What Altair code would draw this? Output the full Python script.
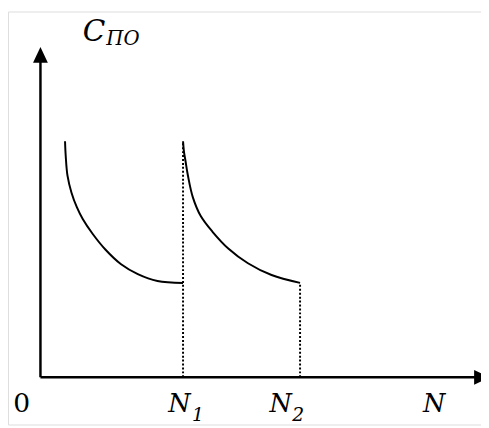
import altair as alt
import pandas as pd

# ---- data (abstract units) ----
curve1_N = [25, 25.7, 27.5, 31.5, 37, 43, 53, 66, 82, 99, 119, 145]
curve1_C = [240, 225, 205, 188, 173, 161, 146, 130, 115, 105, 98, 96]
curve2_N = [145, 146, 147.5, 150, 155, 163, 175, 191, 211, 235, 264]
curve2_C = [240, 229, 220, 205, 183, 164, 148, 131, 116, 104, 96]

N1 = 145
N2 = 264
N_LABEL = 389
X_END = 449
Y_END = 328

curves = pd.DataFrame({
    "N": curve1_N + curve2_N,
    "C": curve1_C + curve2_C,
    "seg": ["a"] * len(curve1_N) + ["b"] * len(curve2_N),
})
drops = pd.DataFrame({"N": [N1, N2], "C0": [0, 0], "C1": [curve1_C[0], curve2_C[-1]]})

xs = alt.Scale(domain=[-33, 448], nice=False, zero=False)
ys = alt.Scale(domain=[-48, 372], nice=False, zero=False)
X = lambda f: alt.X(f, type="quantitative", scale=xs, axis=None)
Y = lambda f: alt.Y(f, type="quantitative", scale=ys, axis=None)

FONT = "DejaVu Serif"

line = alt.Chart(curves).mark_line(color="black", strokeWidth=2, interpolate="catmull-rom").encode(
    x=X("N"), y=Y("C"), detail="seg:N"
)
dotted = alt.Chart(drops).mark_rule(color="black", strokeWidth=2, strokeDash=[2, 2]).encode(
    x=X("N"), y=Y("C0"), y2="C1"
)
xaxis = alt.Chart(pd.DataFrame({"a": [0], "b": [X_END - 6], "z": [0]})).mark_rule(
    color="black", strokeWidth=2.5).encode(x=X("a"), x2="b", y=Y("z"))
yaxis = alt.Chart(pd.DataFrame({"a": [0], "b": [Y_END + 2], "z": [0]})).mark_rule(
    color="black", strokeWidth=2.5).encode(y=Y("a"), y2="b", x=X("z"))

up = alt.Chart(pd.DataFrame({"x": [0], "y": [Y_END]})).mark_point(
    shape="M0,-1L0.94,1L-0.94,1Z", size=256, filled=True, color="black", opacity=1, strokeWidth=0
).encode(x=X("x"), y=Y("y"))
right = alt.Chart(pd.DataFrame({"x": [X_END], "y": [0]})).mark_point(
    shape="M1,0L-1,-0.94L-1,0.94Z", size=256, filled=True, color="black", opacity=1, strokeWidth=0
).encode(x=X("x"), y=Y("y"))


def label(text, xv, yv, dx, dy, size, italic=True, align="left"):
    props = dict(text=text, font=FONT, fontSize=size, color="black", align=align,
                 baseline="alphabetic", dx=dx, dy=dy)
    if italic:
        props["fontStyle"] = "italic"
    return alt.Chart(pd.DataFrame({"x": [xv], "y": [yv]})).mark_text(**props).encode(
        x=X("x"), y=Y("y"))


texts = [
    label("C", 0, Y_END + 8, 43, -6, 30),
    label("ПО", 0, Y_END + 8, 67, -2, 20),
    label("0", 0, 0, -19, 35, 27, italic=False, align="center"),
    label("N", N1, 0, -15, 35, 26),
    label("1", N1, 0, 9, 44, 19),
    label("N", N2, 0, -31, 35, 26),
    label("2", N2, 0, -8, 44, 19),
    label("N", N_LABEL, 0, 0, 35, 26),
]

chart = alt.layer(line, dotted, xaxis, yaxis, up, right, *texts).properties(
    width=481, height=420, padding=0, autosize=alt.AutoSizeParams(type="none")
).configure_view(strokeWidth=0, stroke="transparent").configure(background="white")

chart.save("out.html", embed_options={"renderer": "svg", "actions": False})
